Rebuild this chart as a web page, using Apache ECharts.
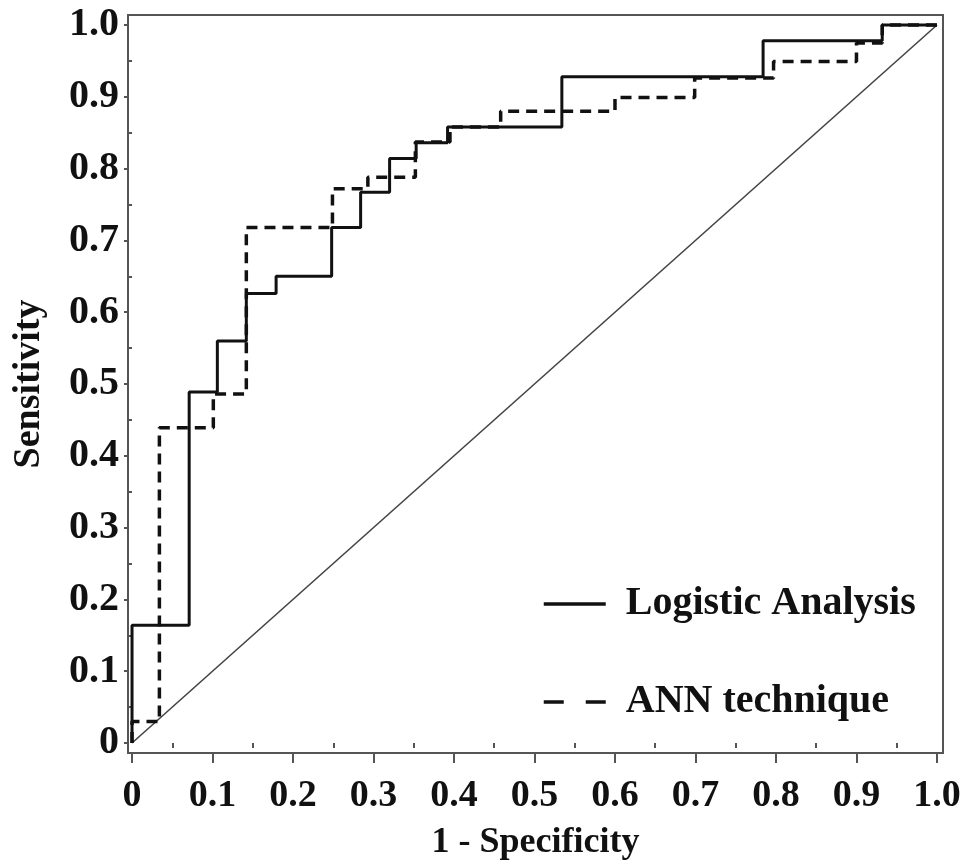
<!DOCTYPE html>
<html>
<head>
<meta charset="utf-8">
<script src="https://cdn.jsdelivr.net/npm/echarts@6/dist/echarts.min.js"></script>
<style>
html,body{margin:0;padding:0;background:#fff;}
#chart{width:967px;height:866px;}
</style>
</head>
<body>
<div id="chart"></div>
<script>
// ---- data ----
var logisticFpr = [0, 0, 0.071, 0.071, 0.106, 0.106, 0.142, 0.142, 0.179, 0.179, 0.248, 0.248, 0.284, 0.284, 0.320, 0.320, 0.353, 0.353, 0.392, 0.392, 0.534, 0.534, 0.784, 0.784, 0.932, 0.932, 1.0];
var logisticTpr = [0, 0.164, 0.164, 0.489, 0.489, 0.560, 0.560, 0.626, 0.626, 0.650, 0.650, 0.718, 0.718, 0.767, 0.767, 0.814, 0.814, 0.836, 0.836, 0.858, 0.858, 0.928, 0.928, 0.978, 0.978, 1.0, 1.0];
var annFpr = [0, 0, 0.034, 0.034, 0.101, 0.101, 0.142, 0.142, 0.249, 0.249, 0.293, 0.293, 0.352, 0.352, 0.395, 0.395, 0.458, 0.458, 0.600, 0.600, 0.699, 0.699, 0.797, 0.797, 0.900, 0.900, 0.932, 0.932, 1.0];
var annTpr = [0, 0.030, 0.030, 0.439, 0.439, 0.486, 0.486, 0.718, 0.718, 0.772, 0.772, 0.788, 0.788, 0.837, 0.837, 0.858, 0.858, 0.880, 0.880, 0.899, 0.899, 0.926, 0.926, 0.949, 0.949, 0.975, 0.975, 1.0, 1.0];
var refX = [0, 1];
var refY = [0, 1];
var seriesNames = ['Logistic Analysis', 'ANN technique'];
var xTicks = [0, 0.1, 0.2, 0.3, 0.4, 0.5, 0.6, 0.7, 0.8, 0.9, 1.0];
var xMinorTicks = [0.05, 0.15, 0.25, 0.35, 0.45, 0.55, 0.65, 0.75, 0.85, 0.95];
var yTicks = [0, 0.1, 0.2, 0.3, 0.4, 0.5, 0.6, 0.7, 0.8, 0.9, 1.0];
var yMinorTicks = [0.05, 0.15, 0.25, 0.35, 0.45, 0.55, 0.65, 0.75, 0.85, 0.95];
var xTitle = '1 - Specificity';
var yTitle = 'Sensitivity';

function pairs(xs, ys) { return xs.map(function (x, i) { return [x, ys[i]]; }); }
function fmt(v) { return v === 0 ? '0' : v.toFixed(1); }

var FONT = "'Liberation Serif', 'Times New Roman', serif";
var AX = '#555';
var INK = '#111';
var xMin = -0.005, xMax = 1.0075, yMin = -0.0139, yMax = 1.0139;

var chart = echarts.init(document.getElementById('chart'), null, { renderer: 'canvas' });
chart.setOption({
  backgroundColor: '#fff',
  animation: false,
  color: [INK, INK, '#444'],
  grid: { left: 128, top: 15, right: 24, bottom: 111, show: true, borderColor: AX, borderWidth: 2, backgroundColor: 'transparent' },
  legend: {
    orient: 'vertical',
    left: 537, top: 579,
    itemWidth: 62, itemHeight: 40, itemGap: 58,
    itemStyle: { opacity: 0 },
    textStyle: { fontFamily: FONT, fontWeight: 'bold', fontSize: 40, color: INK, padding: [0, 0, 0, 15] },
    data: [
      { name: seriesNames[0], itemStyle: { opacity: 0 }, lineStyle: { width: 3.5, color: INK, type: 'solid' } },
      { name: seriesNames[1], itemStyle: { opacity: 0 }, lineStyle: { width: 3.5, color: INK, type: [20, 22] } }
    ]
  },
  xAxis: [{
    type: 'value', min: xMin, max: xMax,
    axisLine: { show: true, onZero: false, lineStyle: { color: AX, width: 2 } },
    axisTick: { show: true, inside: false, length: 10, customValues: xTicks, lineStyle: { color: AX, width: 2 } },
    axisLabel: { customValues: xTicks, formatter: fmt, fontFamily: FONT, fontWeight: 'bold', fontSize: 38, color: INK, margin: 24 },
    splitLine: { show: false },
    name: xTitle, nameLocation: 'middle', nameGap: 72,
    nameTextStyle: { fontFamily: FONT, fontWeight: 'bold', fontSize: 36, color: INK }
  }, {
    type: 'value', min: xMin, max: xMax, position: 'bottom',
    axisLine: { show: false },
    axisTick: { show: true, length: 5, customValues: xMinorTicks, lineStyle: { color: AX, width: 2 } },
    axisLabel: { show: false }, splitLine: { show: false }
  }],
  yAxis: [{
    type: 'value', min: yMin, max: yMax,
    axisLine: { show: true, onZero: false, lineStyle: { color: AX, width: 2 } },
    axisTick: { show: true, length: 4, customValues: yTicks, lineStyle: { color: AX, width: 2 } },
    axisLabel: { customValues: yTicks, formatter: fmt, fontFamily: FONT, fontWeight: 'bold', fontSize: 40, color: INK, margin: 9 },
    splitLine: { show: false },
    name: yTitle, nameLocation: 'middle', nameGap: 80, nameRotate: 90,
    nameTextStyle: { fontFamily: FONT, fontWeight: 'bold', fontSize: 38, color: INK }
  }, {
    type: 'value', min: yMin, max: yMax, position: 'left',
    axisLine: { show: false },
    axisTick: { show: true, length: 4, customValues: yMinorTicks, lineStyle: { color: AX, width: 2 } },
    axisLabel: { show: false }, splitLine: { show: false }
  }],
  series: [
    {
      name: seriesNames[0], type: 'line', data: pairs(logisticFpr, logisticTpr), symbol: 'none',
      itemStyle: { color: INK },
      lineStyle: { color: INK, width: 3, type: 'solid' }, z: 3
    },
    {
      name: seriesNames[1], type: 'line', data: pairs(annFpr, annTpr), symbol: 'none',
      itemStyle: { color: INK },
      lineStyle: { color: INK, width: 3.5, type: [11, 7] }, z: 2
    },
    {
      name: 'reference', type: 'line', data: pairs(refX, refY), symbol: 'none',
      itemStyle: { color: '#444' },
      lineStyle: { color: '#444', width: 1.6 }, silent: true, z: 1
    }
  ]
});
</script>
</body>
</html>
